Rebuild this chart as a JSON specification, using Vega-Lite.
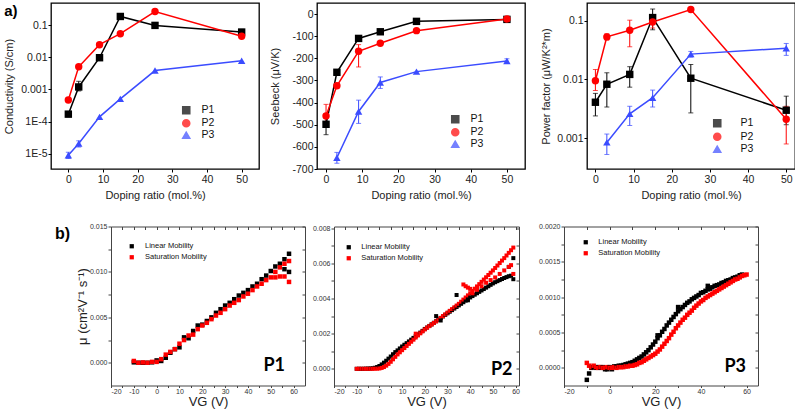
{
  "$schema": "https://vega.github.io/schema/vega-lite/v6.json",
  "background": "white",
  "padding": {"left": 2, "top": 2, "right": 0, "bottom": 0},
  "config": {
    "font": "Liberation Sans",
    "view": {"stroke": "#000000", "strokeWidth": 1.3},
    "axis": {"grid": false, "domain": false, "tickColor": "#000000", "labelColor": "#222222", "titleColor": "#222222", "labelFont": "Liberation Sans", "titleFont": "Liberation Sans", "titleFontWeight": "normal"},
    "legend": {"labelFont": "Liberation Sans", "labelColor": "#111111", "padding": 0}
  },
  "spacing": 19.5,
  "align": "all",
  "resolve": {"scale": {"color": "independent", "shape": "independent"}},
  "vconcat": [
    {
      "spacing": 58, "bounds": "flush", "align": "none",
      "resolve": {"scale": {"color": "independent", "shape": "independent"}},
      "hconcat": [
        {
          "width": 208, "height": 166,
          "data": {"values": [
            {"ratio": 0, "value": 0.00017, "sample": "P1"}, {"ratio": 3, "value": 0.0012, "sample": "P1"}, {"ratio": 9, "value": 0.0098, "sample": "P1"}, {"ratio": 15, "value": 0.19, "sample": "P1"}, {"ratio": 25, "value": 0.1, "sample": "P1"}, {"ratio": 50, "value": 0.062, "sample": "P1"},
            {"ratio": 0, "value": 0.00047, "sample": "P2"}, {"ratio": 3, "value": 0.0051, "sample": "P2"}, {"ratio": 9, "value": 0.025, "sample": "P2"}, {"ratio": 15, "value": 0.055, "sample": "P2"}, {"ratio": 25, "value": 0.27, "sample": "P2"}, {"ratio": 50, "value": 0.046, "sample": "P2"},
            {"ratio": 0, "value": 0.0000089, "sample": "P3"}, {"ratio": 3, "value": 0.0000205, "sample": "P3"}, {"ratio": 9, "value": 0.00014, "sample": "P3"}, {"ratio": 15, "value": 0.00051, "sample": "P3"}, {"ratio": 25, "value": 0.0039, "sample": "P3"}, {"ratio": 50, "value": 0.0079, "sample": "P3"}
          ]},
          "encoding": {
            "color": {"field": "sample", "type": "nominal", "scale": {"domain": ["P1", "P2", "P3"], "range": ["#000000", "#ff0000", "#3b4cff"]},
              "legend": {"title": null, "orient": "none", "legendX": 130, "legendY": 102, "labelFontSize": 10.5, "symbolSize": 50, "rowPadding": -1, "labelOffset": 10}}
          },
          "layer": [
            {
              "data": {"values": [
                {"ratio": 0, "sample": "P1", "lo": 0.00014, "hi": 0.0002}, {"ratio": 3, "sample": "P1", "lo": 0.0009, "hi": 0.0018}, {"ratio": 15, "sample": "P1", "lo": 0.17, "hi": 0.21}, {"ratio": 50, "sample": "P1", "lo": 0.052, "hi": 0.075},
                {"ratio": 0, "sample": "P2", "lo": 0.0004, "hi": 0.00055},
                {"ratio": 0, "sample": "P3", "lo": 0.000007, "hi": 0.000011}, {"ratio": 3, "sample": "P3", "lo": 0.000016, "hi": 0.000025}
              ]},
              "mark": {"type": "errorbar", "ticks": {"size": 5}, "thickness": 1},
              "encoding": {
                "x": {"field": "ratio", "type": "quantitative", "scale": {"domain": [-5, 55], "nice": false, "zero": false}, "axis": {"values": [0, 10, 20, 30, 40, 50], "title": "Doping ratio (mol.%)", "labelFontSize": 10.5, "titleFontSize": 11, "tickSize": 3, "labelPadding": 2, "titlePadding": 5}},
                "y": {"field": "lo", "type": "quantitative", "scale": {"type": "log", "domain": [0.0000033, 0.5], "nice": false}, "axis": {"values": [0.00001, 0.0001, 0.001, 0.01, 0.1], "labelExpr": "datum.value < 0.00005 ? '1E-5' : datum.value < 0.0005 ? '1E-4' : datum.value < 0.005 ? '0.001' : datum.value < 0.05 ? '0.01' : '0.1'", "title": "Conductivity (S/cm)", "labelFontSize": 10.5, "titleFontSize": 11, "tickSize": 3, "labelPadding": 1, "titlePadding": 6.5}},
                "y2": {"field": "hi"}
              }
            },
            {
              "mark": {"type": "line", "strokeWidth": 1.5},
              "encoding": {
                "x": {"field": "ratio", "type": "quantitative", "scale": {"domain": [-5, 55], "nice": false, "zero": false}, "axis": {"values": [0, 10, 20, 30, 40, 50], "title": "Doping ratio (mol.%)", "labelFontSize": 10.5, "titleFontSize": 11, "tickSize": 3, "labelPadding": 2, "titlePadding": 5}},
                "y": {"field": "value", "type": "quantitative", "scale": {"type": "log", "domain": [0.0000033, 0.5], "nice": false}, "axis": {"values": [0.00001, 0.0001, 0.001, 0.01, 0.1], "labelExpr": "datum.value < 0.00005 ? '1E-5' : datum.value < 0.0005 ? '1E-4' : datum.value < 0.005 ? '0.001' : datum.value < 0.05 ? '0.01' : '0.1'", "title": "Conductivity (S/cm)", "labelFontSize": 10.5, "titleFontSize": 11, "tickSize": 3, "labelPadding": 1, "titlePadding": 6.5}}
              }
            },
            {
              "mark": {"type": "point", "filled": true, "opacity": 1, "size": 55},
              "encoding": {
                "x": {"field": "ratio", "type": "quantitative", "scale": {"domain": [-5, 55], "nice": false, "zero": false}, "axis": {"values": [0, 10, 20, 30, 40, 50], "title": "Doping ratio (mol.%)", "labelFontSize": 10.5, "titleFontSize": 11, "tickSize": 3, "labelPadding": 2, "titlePadding": 5}},
                "y": {"field": "value", "type": "quantitative", "scale": {"type": "log", "domain": [0.0000033, 0.5], "nice": false}, "axis": {"values": [0.00001, 0.0001, 0.001, 0.01, 0.1], "labelExpr": "datum.value < 0.00005 ? '1E-5' : datum.value < 0.0005 ? '1E-4' : datum.value < 0.005 ? '0.001' : datum.value < 0.05 ? '0.01' : '0.1'", "title": "Conductivity (S/cm)", "labelFontSize": 10.5, "titleFontSize": 11, "tickSize": 3, "labelPadding": 1, "titlePadding": 6.5}},
                "shape": {"field": "sample", "type": "nominal", "scale": {"domain": ["P1", "P2", "P3"], "range": ["square", "circle", "triangle-up"]},
                  "legend": {"title": null, "orient": "none", "legendX": 130, "legendY": 102, "labelFontSize": 10.5, "symbolSize": 50, "rowPadding": -1, "labelOffset": 10}}
              }
            },
            {
              "data": {"values": [{"label": "a)"}]},
              "mark": {"type": "text", "font": "Liberation Sans", "fontSize": 15, "fontWeight": "bold", "align": "left", "baseline": "alphabetic"},
              "encoding": {
                "x": {"datum": -18.5, "type": "quantitative", "scale": {"domain": [-5, 55], "nice": false, "zero": false}, "axis": {"values": [0, 10, 20, 30, 40, 50], "title": "Doping ratio (mol.%)", "labelFontSize": 10.5, "titleFontSize": 11, "tickSize": 3, "labelPadding": 2, "titlePadding": 5}},
                "y": {"datum": 0.2, "type": "quantitative", "scale": {"type": "log", "domain": [0.0000033, 0.5], "nice": false}, "axis": {"values": [0.00001, 0.0001, 0.001, 0.01, 0.1], "labelExpr": "datum.value < 0.00005 ? '1E-5' : datum.value < 0.0005 ? '1E-4' : datum.value < 0.005 ? '0.001' : datum.value < 0.05 ? '0.01' : '0.1'", "title": "Conductivity (S/cm)", "labelFontSize": 10.5, "titleFontSize": 11, "tickSize": 3, "labelPadding": 1, "titlePadding": 6.5}},
                "text": {"field": "label"},
                "color": {"value": "#000000"}
              }
            }
          ]
        },
        {
          "spacing": 62, "bounds": "flush", "align": "none",
          "resolve": {"scale": {"color": "independent", "shape": "independent"}},
          "hconcat": [
            {
              "width": 208, "height": 166,
              "data": {"values": [
                {"ratio": 0, "value": -498, "sample": "P1"}, {"ratio": 3, "value": -263, "sample": "P1"}, {"ratio": 9, "value": -110, "sample": "P1"}, {"ratio": 15, "value": -80, "sample": "P1"}, {"ratio": 25, "value": -33, "sample": "P1"}, {"ratio": 50, "value": -24, "sample": "P1"},
                {"ratio": 0, "value": -460, "sample": "P2"}, {"ratio": 3, "value": -324, "sample": "P2"}, {"ratio": 9, "value": -168, "sample": "P2"}, {"ratio": 15, "value": -132, "sample": "P2"}, {"ratio": 25, "value": -75, "sample": "P2"}, {"ratio": 50, "value": -22, "sample": "P2"},
                {"ratio": 3, "value": -649, "sample": "P3"}, {"ratio": 9, "value": -440, "sample": "P3"}, {"ratio": 15, "value": -309, "sample": "P3"}, {"ratio": 25, "value": -260, "sample": "P3"}, {"ratio": 50, "value": -212, "sample": "P3"}
              ]},
              "encoding": {
                "x": {"field": "ratio", "type": "quantitative", "scale": {"domain": [-2.5, 55], "nice": false, "zero": false}, "axis": {"values": [0, 10, 20, 30, 40, 50], "title": "Doping ratio (mol.%)", "labelFontSize": 10.5, "titleFontSize": 11, "tickSize": 3, "labelPadding": 2, "titlePadding": 5}},
                "color": {"field": "sample", "type": "nominal", "scale": {"domain": ["P1", "P2", "P3"], "range": ["#000000", "#ff0000", "#3b4cff"]},
                  "legend": {"title": null, "orient": "none", "legendX": 133, "legendY": 111, "labelFontSize": 10.5, "symbolSize": 50, "rowPadding": -1, "labelOffset": 10}}
              },
              "layer": [
                {
                  "data": {"values": [
                    {"ratio": 0, "sample": "P1", "lo": -545, "hi": -452}, {"ratio": 3, "sample": "P1", "lo": -275, "hi": -251}, {"ratio": 9, "sample": "P1", "lo": -118, "hi": -102},
                    {"ratio": 0, "sample": "P2", "lo": -510, "hi": -408}, {"ratio": 3, "sample": "P2", "lo": -335, "hi": -313}, {"ratio": 9, "sample": "P2", "lo": -239, "hi": -138},
                    {"ratio": 3, "sample": "P3", "lo": -674, "hi": -625}, {"ratio": 9, "sample": "P3", "lo": -494, "hi": -389}, {"ratio": 15, "sample": "P3", "lo": -336, "hi": -284}, {"ratio": 50, "sample": "P3", "lo": -222, "hi": -202}
                  ]},
                  "mark": {"type": "errorbar", "ticks": {"size": 5}, "thickness": 1},
                  "encoding": {
                    "y": {"field": "lo", "type": "quantitative", "scale": {"domain": [-700, 50], "nice": false, "zero": false}, "axis": {"values": [-700, -600, -500, -400, -300, -200, -100, 0], "labelExpr": "toString(datum.value)", "title": "Seebeck (μV/K)", "labelFontSize": 10.5, "titleFontSize": 11, "tickSize": 3, "labelPadding": 1, "titlePadding": 11}},
                    "y2": {"field": "hi"}
                  }
                },
                {
                  "mark": {"type": "line", "strokeWidth": 1.5},
                  "encoding": {"y": {"field": "value", "type": "quantitative", "scale": {"domain": [-700, 50], "nice": false, "zero": false}, "axis": {"values": [-700, -600, -500, -400, -300, -200, -100, 0], "labelExpr": "toString(datum.value)", "title": "Seebeck (μV/K)", "labelFontSize": 10.5, "titleFontSize": 11, "tickSize": 3, "labelPadding": 1, "titlePadding": 11}}}
                },
                {
                  "mark": {"type": "point", "filled": true, "opacity": 1, "size": 55},
                  "encoding": {
                    "y": {"field": "value", "type": "quantitative", "scale": {"domain": [-700, 50], "nice": false, "zero": false}, "axis": {"values": [-700, -600, -500, -400, -300, -200, -100, 0], "labelExpr": "toString(datum.value)", "title": "Seebeck (μV/K)", "labelFontSize": 10.5, "titleFontSize": 11, "tickSize": 3, "labelPadding": 1, "titlePadding": 11}},
                    "shape": {"field": "sample", "type": "nominal", "scale": {"domain": ["P1", "P2", "P3"], "range": ["square", "circle", "triangle-up"]},
                      "legend": {"title": null, "orient": "none", "legendX": 133, "legendY": 111, "labelFontSize": 10.5, "symbolSize": 50, "rowPadding": -1, "labelOffset": 10}}
                  }
                }
              ]
            },
            {
              "width": 208, "height": 166,
              "data": {"values": [
                {"ratio": 0, "value": 0.0041, "sample": "P1"}, {"ratio": 3, "value": 0.0083, "sample": "P1"}, {"ratio": 9, "value": 0.0122, "sample": "P1"}, {"ratio": 15, "value": 0.113, "sample": "P1"}, {"ratio": 25, "value": 0.0105, "sample": "P1"}, {"ratio": 50, "value": 0.003, "sample": "P1"},
                {"ratio": 0, "value": 0.0095, "sample": "P2"}, {"ratio": 3, "value": 0.053, "sample": "P2"}, {"ratio": 9, "value": 0.069, "sample": "P2"}, {"ratio": 15, "value": 0.095, "sample": "P2"}, {"ratio": 25, "value": 0.155, "sample": "P2"}, {"ratio": 50, "value": 0.0021, "sample": "P2"},
                {"ratio": 3, "value": 0.00085, "sample": "P3"}, {"ratio": 9, "value": 0.0026, "sample": "P3"}, {"ratio": 15, "value": 0.0049, "sample": "P3"}, {"ratio": 25, "value": 0.027, "sample": "P3"}, {"ratio": 50, "value": 0.034, "sample": "P3"}
              ]},
              "encoding": {
                "x": {"field": "ratio", "type": "quantitative", "scale": {"domain": [-2.2, 52.3], "nice": false, "zero": false}, "axis": {"values": [0, 10, 20, 30, 40, 50], "title": "Doping ratio (mol.%)", "labelFontSize": 10.5, "titleFontSize": 11, "tickSize": 3, "labelPadding": 2, "titlePadding": 5}},
                "color": {"field": "sample", "type": "nominal", "scale": {"domain": ["P1", "P2", "P3"], "range": ["#000000", "#ff0000", "#3b4cff"]},
                  "legend": {"title": null, "orient": "none", "legendX": 125, "legendY": 115, "labelFontSize": 10.5, "symbolSize": 50, "rowPadding": -0.5, "labelOffset": 18}}
              },
              "layer": [
                {
                  "data": {"values": [
                    {"ratio": 0, "sample": "P1", "lo": 0.0024, "hi": 0.0058}, {"ratio": 3, "sample": "P1", "lo": 0.0034, "hi": 0.013}, {"ratio": 9, "sample": "P1", "lo": 0.0074, "hi": 0.0165}, {"ratio": 15, "sample": "P1", "lo": 0.07, "hi": 0.158}, {"ratio": 25, "sample": "P1", "lo": 0.0027, "hi": 0.018}, {"ratio": 50, "sample": "P1", "lo": 0.0017, "hi": 0.0052},
                    {"ratio": 0, "sample": "P2", "lo": 0.0065, "hi": 0.0148}, {"ratio": 3, "sample": "P2", "lo": 0.047, "hi": 0.06}, {"ratio": 9, "sample": "P2", "lo": 0.036, "hi": 0.102}, {"ratio": 15, "sample": "P2", "lo": 0.075, "hi": 0.115}, {"ratio": 50, "sample": "P2", "lo": 0.0008, "hi": 0.0035},
                    {"ratio": 3, "sample": "P3", "lo": 0.00053, "hi": 0.00118}, {"ratio": 9, "sample": "P3", "lo": 0.00165, "hi": 0.0035}, {"ratio": 15, "sample": "P3", "lo": 0.0034, "hi": 0.0066}, {"ratio": 25, "sample": "P3", "lo": 0.024, "hi": 0.03}, {"ratio": 50, "sample": "P3", "lo": 0.0257, "hi": 0.041}
                  ]},
                  "mark": {"type": "errorbar", "ticks": {"size": 5}, "thickness": 1},
                  "encoding": {
                    "y": {"field": "lo", "type": "quantitative", "scale": {"type": "log", "domain": [0.0003, 0.2], "nice": false}, "axis": {"values": [0.001, 0.01, 0.1], "labelExpr": "datum.value < 0.005 ? '0.001' : datum.value < 0.05 ? '0.01' : '0.1'", "title": "Power factor (μW/K²*m)", "labelFontSize": 10.5, "titleFontSize": 11, "tickSize": 3, "labelPadding": 1, "titlePadding": 5}},
                    "y2": {"field": "hi"}
                  }
                },
                {
                  "mark": {"type": "line", "strokeWidth": 1.5},
                  "encoding": {"y": {"field": "value", "type": "quantitative", "scale": {"type": "log", "domain": [0.0003, 0.2], "nice": false}, "axis": {"values": [0.001, 0.01, 0.1], "labelExpr": "datum.value < 0.005 ? '0.001' : datum.value < 0.05 ? '0.01' : '0.1'", "title": "Power factor (μW/K²*m)", "labelFontSize": 10.5, "titleFontSize": 11, "tickSize": 3, "labelPadding": 1, "titlePadding": 5}}}
                },
                {
                  "mark": {"type": "point", "filled": true, "opacity": 1, "size": 55},
                  "encoding": {
                    "y": {"field": "value", "type": "quantitative", "scale": {"type": "log", "domain": [0.0003, 0.2], "nice": false}, "axis": {"values": [0.001, 0.01, 0.1], "labelExpr": "datum.value < 0.005 ? '0.001' : datum.value < 0.05 ? '0.01' : '0.1'", "title": "Power factor (μW/K²*m)", "labelFontSize": 10.5, "titleFontSize": 11, "tickSize": 3, "labelPadding": 1, "titlePadding": 5}},
                    "shape": {"field": "sample", "type": "nominal", "scale": {"domain": ["P1", "P2", "P3"], "range": ["square", "circle", "triangle-up"]},
                      "legend": {"title": null, "orient": "none", "legendX": 125, "legendY": 115, "labelFontSize": 10.5, "symbolSize": 50, "rowPadding": -0.5, "labelOffset": 18}}
                  }
                }
              ]
            }
          ]
        }
      ]
    },
    {
      "spacing": 29, "bounds": "flush", "align": "none",
      "resolve": {"scale": {"color": "independent", "shape": "independent"}},
      "hconcat": [
        {
          "width": 31, "height": 159,
          "view": {"stroke": null},
          "data": {"values": [{"t": ""}]},
          "mark": "text",
          "encoding": {"text": {"field": "t"}}
        },
        {
          "width": 194, "height": 159,
          "view": {"stroke": "#444444", "strokeWidth": 1},
          "resolve": {"axis": {"x": "independent", "y": "independent"}},
          "layer": [
            {
              "data": {"values": [
                {"V": -10, "lin": 0.00005, "sat": 0.0002}, {"V": -8, "lin": 0.0, "sat": 0.0}, {"V": -6, "lin": 0.0, "sat": 0.00004}, {"V": -4, "lin": 0.0, "sat": 0.0}, {"V": -2, "lin": 0.00005, "sat": 0.0001},
                {"V": 0, "lin": 0.00026, "sat": 0.0001}, {"V": 2, "lin": 0.0002, "sat": 0.0004}, {"V": 4, "lin": 0.00055, "sat": 0.0009}, {"V": 6, "lin": 0.0011, "sat": 0.0012}, {"V": 8, "lin": 0.0015, "sat": 0.0015},
                {"V": 10, "lin": 0.0017, "sat": 0.0021}, {"V": 12, "lin": 0.0028, "sat": 0.0025}, {"V": 14, "lin": 0.0027, "sat": 0.003}, {"V": 16, "lin": 0.0035, "sat": 0.0031}, {"V": 18, "lin": 0.0041, "sat": 0.0037},
                {"V": 20, "lin": 0.0042, "sat": 0.0041}, {"V": 22, "lin": 0.0046, "sat": 0.0044}, {"V": 24, "lin": 0.005, "sat": 0.0048}, {"V": 26, "lin": 0.0055, "sat": 0.0052}, {"V": 28, "lin": 0.0059, "sat": 0.0055},
                {"V": 30, "lin": 0.0063, "sat": 0.0059}, {"V": 32, "lin": 0.0066, "sat": 0.0063}, {"V": 34, "lin": 0.007, "sat": 0.0066}, {"V": 36, "lin": 0.0074, "sat": 0.0069}, {"V": 38, "lin": 0.0077, "sat": 0.0073},
                {"V": 40, "lin": 0.008, "sat": 0.0076}, {"V": 42, "lin": 0.0084, "sat": 0.008}, {"V": 44, "lin": 0.0087, "sat": 0.0084}, {"V": 46, "lin": 0.0092, "sat": 0.0087}, {"V": 48, "lin": 0.0096, "sat": 0.0091},
                {"V": 50, "lin": 0.0101, "sat": 0.0094}, {"V": 52, "lin": 0.0106, "sat": 0.01}, {"V": 54, "lin": 0.0109, "sat": 0.0105}, {"V": 56, "lin": 0.0114, "sat": 0.0109}, {"V": 58, "lin": 0.012, "sat": 0.0112},
                {"V": 52, "sat": 0.0094}, {"V": 54, "sat": 0.0095}, {"V": 56, "lin": 0.0103, "sat": 0.0095}, {"V": 58, "lin": 0.01, "sat": 0.0089}
              ]},
              "transform": [{"fold": ["lin", "sat"], "as": ["type", "mu"]}, {"filter": "isValid(datum.mu)"}],
              "mark": {"type": "square", "size": 20, "opacity": 1},
              "encoding": {
                "x": {"field": "V", "type": "quantitative", "scale": {"domain": [-20, 65], "nice": false, "zero": false}, "axis": {"values": [-20, -15, -10, -5, 0, 5, 10, 15, 20, 25, 30, 35, 40, 45, 50, 55, 60], "labelExpr": "datum.value % 10 === 0 ? toString(datum.value) : ''", "title": "VG (V)", "labelFontSize": 7, "titleFontSize": 13, "tickSize": 2, "labelPadding": 0, "titlePadding": 1, "labelColor": "#333333", "tickColor": "#444444"}},
                "y": {"field": "mu", "type": "quantitative", "scale": {"domain": [-0.0025, 0.015], "nice": false, "zero": false}, "axis": {"values": [0, 0.0025, 0.005, 0.0075, 0.01, 0.0125, 0.015], "labelExpr": "abs(round(datum.value / 0.005) * 0.005 - datum.value) < 0.000001 ? format(datum.value, '.3f') : ''", "title": "μ (cm²V⁻¹ s⁻¹)", "labelFontSize": 7, "titleFontSize": 13, "tickSize": 3, "labelPadding": 1, "titlePadding": 0, "labelColor": "#333333", "tickColor": "#444444"}},
                "color": {"field": "type", "type": "nominal", "scale": {"domain": ["lin", "sat"], "range": ["#000000", "#ff0000"]}, "legend": {"title": null, "orient": "none", "legendX": 17, "legendY": 16, "labelFontSize": 7.5, "symbolType": "square", "symbolSize": 18, "symbolStrokeWidth": 0, "rowPadding": 2, "labelOffset": 9.5, "labelExpr": "datum.label === 'lin' ? 'Linear Mobility' : 'Saturation Mobility'"}}
              }
            },
            {
              "data": {"values": [{"label": "P1"}]},
              "mark": {"type": "text", "font": "Lato", "fontWeight": "bold", "fontSize": 18, "align": "center", "baseline": "alphabetic", "color": "#000000"},
              "encoding": {
                "x": {"datum": 51.5, "type": "quantitative", "scale": {"domain": [-20, 65], "nice": false, "zero": false}, "axis": {"orient": "top", "labels": false, "title": null, "values": [-20, -15, -10, -5, 0, 5, 10, 15, 20, 25, 30, 35, 40, 45, 50, 55, 60], "tickSize": -3, "tickColor": "#444444"}},
                "y": {"datum": -0.00092, "type": "quantitative", "scale": {"domain": [-0.0025, 0.015], "nice": false, "zero": false}, "axis": {"orient": "right", "labels": false, "title": null, "values": [0, 0.0025, 0.005, 0.0075, 0.01, 0.0125, 0.015], "tickSize": -3, "tickColor": "#444444"}},
                "text": {"field": "label"}
              }
            },
            {
              "data": {"values": [{"label": "b)"}]},
              "mark": {"type": "text", "font": "Liberation Sans", "fontWeight": "bold", "fontSize": 16, "align": "left", "baseline": "alphabetic", "color": "#000000"},
              "encoding": {
                "x": {"datum": -44.5, "type": "quantitative", "scale": {"domain": [-20, 65], "nice": false, "zero": false}, "axis": null},
                "y": {"datum": 0.0136, "type": "quantitative", "scale": {"domain": [-0.0025, 0.015], "nice": false, "zero": false}, "axis": null},
                "text": {"field": "label"}
              }
            }
          ]
        },
        {
          "spacing": 45, "bounds": "flush", "align": "none",
          "resolve": {"scale": {"color": "independent", "shape": "independent"}},
          "hconcat": [
            {
              "width": 185, "height": 159,
              "view": {"stroke": "#444444", "strokeWidth": 1},
              "resolve": {"axis": {"x": "independent", "y": "independent"}},
              "layer": [
                {
                  "data": {"values": [
                    {"V": -10, "lin": 0.0, "sat": 0.0}, {"V": -9, "lin": 0.0, "sat": 0.0}, {"V": -8, "lin": 0.0, "sat": 0.0}, {"V": -7, "lin": 0.0, "sat": 0.0}, {"V": -6, "lin": 0.00001, "sat": 0.0},
                    {"V": -5, "lin": 0.00001, "sat": 0.0}, {"V": -4, "lin": 0.00002, "sat": 0.0}, {"V": -3, "lin": 0.00003, "sat": 0.0}, {"V": -2, "lin": 0.00006, "sat": 0.00001}, {"V": -1, "lin": 0.0001, "sat": 0.00001},
                    {"V": 0, "lin": 0.00016, "sat": 0.00002}, {"V": 1, "lin": 0.00025, "sat": 0.00005}, {"V": 2, "lin": 0.00035, "sat": 0.0001}, {"V": 3, "lin": 0.00046, "sat": 0.00018}, {"V": 4, "lin": 0.00058, "sat": 0.00028},
                    {"V": 5, "lin": 0.0007, "sat": 0.0004}, {"V": 6, "lin": 0.00083, "sat": 0.00054}, {"V": 7, "lin": 0.00095, "sat": 0.00068}, {"V": 8, "lin": 0.00105, "sat": 0.00082}, {"V": 9, "lin": 0.00116, "sat": 0.00094},
                    {"V": 10, "lin": 0.00127, "sat": 0.00106}, {"V": 11, "lin": 0.00137, "sat": 0.00118}, {"V": 12, "lin": 0.00146, "sat": 0.0013}, {"V": 13, "lin": 0.00156, "sat": 0.00142}, {"V": 14, "lin": 0.00166, "sat": 0.00154},
                    {"V": 15, "lin": 0.00176, "sat": 0.00166}, {"V": 16, "lin": 0.00186, "sat": 0.00178}, {"V": 17, "lin": 0.00196, "sat": 0.0019}, {"V": 18, "lin": 0.00206, "sat": 0.00202}, {"V": 19, "lin": 0.00216, "sat": 0.00213},
                    {"V": 20, "lin": 0.00227, "sat": 0.00224}, {"V": 21, "lin": 0.00235, "sat": 0.00234}, {"V": 22, "lin": 0.00244, "sat": 0.00243}, {"V": 23, "lin": 0.00253, "sat": 0.00252}, {"V": 24, "lin": 0.00262, "sat": 0.00261},
                    {"V": 25, "lin": 0.00271, "sat": 0.0027}, {"V": 26, "lin": 0.0028, "sat": 0.0028}, {"V": 27, "lin": 0.00289, "sat": 0.0029}, {"V": 28, "lin": 0.00298, "sat": 0.003}, {"V": 29, "lin": 0.00307, "sat": 0.0031},
                    {"V": 30, "lin": 0.00316, "sat": 0.0032}, {"V": 31, "lin": 0.00325, "sat": 0.0033}, {"V": 32, "lin": 0.00334, "sat": 0.0034}, {"V": 33, "lin": 0.00343, "sat": 0.0035}, {"V": 34, "lin": 0.00352, "sat": 0.0036},
                    {"V": 35, "lin": 0.00361, "sat": 0.0037}, {"V": 36, "lin": 0.0037, "sat": 0.00382}, {"V": 37, "lin": 0.00379, "sat": 0.00394}, {"V": 38, "lin": 0.00388, "sat": 0.00406}, {"V": 39, "lin": 0.00397, "sat": 0.00418},
                    {"V": 40, "lin": 0.00406, "sat": 0.0043}, {"V": 41, "lin": 0.00414, "sat": 0.00443}, {"V": 42, "lin": 0.00422, "sat": 0.00456}, {"V": 43, "lin": 0.0043, "sat": 0.00469}, {"V": 44, "lin": 0.00438, "sat": 0.00482},
                    {"V": 45, "lin": 0.00446, "sat": 0.00495}, {"V": 46, "lin": 0.00454, "sat": 0.00508}, {"V": 47, "lin": 0.00462, "sat": 0.00521}, {"V": 48, "lin": 0.0047, "sat": 0.00534}, {"V": 49, "lin": 0.00478, "sat": 0.00547},
                    {"V": 50, "lin": 0.00486, "sat": 0.0056}, {"V": 51, "lin": 0.00493, "sat": 0.00574}, {"V": 52, "lin": 0.00499, "sat": 0.00588}, {"V": 53, "lin": 0.00505, "sat": 0.00602}, {"V": 54, "lin": 0.00511, "sat": 0.00616},
                    {"V": 55, "lin": 0.00517, "sat": 0.0063}, {"V": 56, "lin": 0.00522, "sat": 0.00645}, {"V": 57, "lin": 0.00527, "sat": 0.0066}, {"V": 58, "lin": 0.0053, "sat": 0.00675}, {"V": 59, "lin": 0.0051, "sat": 0.0069},
                    {"V": 25, "lin": 0.003}, {"V": 27, "lin": 0.00275}, {"V": 34, "lin": 0.0042}, {"V": 39, "lin": 0.0039}, {"V": 57, "lin": 0.0058}, {"V": 59, "lin": 0.0063},
                    {"V": 16, "sat": 0.002}, {"V": 37, "sat": 0.0048}, {"V": 38, "sat": 0.0047}, {"V": 39, "sat": 0.00462}, {"V": 40, "sat": 0.00455},
                    {"V": 41, "sat": 0.0043}, {"V": 43, "sat": 0.0045}, {"V": 45, "sat": 0.0047}, {"V": 47, "sat": 0.0049}, {"V": 49, "sat": 0.00505}, {"V": 51, "sat": 0.0052}, {"V": 53, "sat": 0.0054}, {"V": 55, "sat": 0.0056}, {"V": 57, "sat": 0.0058}, {"V": 58, "sat": 0.0059}, {"V": 59, "sat": 0.0054}
                  ]},
                  "transform": [{"fold": ["lin", "sat"], "as": ["type", "mu"]}, {"filter": "isValid(datum.mu)"}],
                  "mark": {"type": "square", "size": 16, "opacity": 1},
                  "encoding": {
                    "x": {"field": "V", "type": "quantitative", "scale": {"domain": [-20, 61.5], "nice": false, "zero": false}, "axis": {"values": [-20, -15, -10, -5, 0, 5, 10, 15, 20, 25, 30, 35, 40, 45, 50, 55, 60], "labelExpr": "datum.value % 10 === 0 ? toString(datum.value) : ''", "title": "VG (V)", "labelFontSize": 7, "titleFontSize": 13, "tickSize": 2, "labelPadding": 0, "titlePadding": 1, "labelColor": "#333333", "tickColor": "#444444"}},
                    "y": {"field": "mu", "type": "quantitative", "scale": {"domain": [-0.00095, 0.0081], "nice": false, "zero": false}, "axis": {"values": [0, 0.001, 0.002, 0.003, 0.004, 0.005, 0.006, 0.007, 0.008], "labelExpr": "abs(round(datum.value / 0.002) * 0.002 - datum.value) < 0.000001 ? format(datum.value, '.3f') : ''", "title": null, "labelFontSize": 7, "tickSize": 3, "labelPadding": 1, "labelColor": "#333333", "tickColor": "#444444"}},
                    "color": {"field": "type", "type": "nominal", "scale": {"domain": ["lin", "sat"], "range": ["#000000", "#ff0000"]}, "legend": {"title": null, "orient": "none", "legendX": 11, "legendY": 17, "labelFontSize": 7.5, "symbolType": "square", "symbolSize": 18, "symbolStrokeWidth": 0, "rowPadding": 2, "labelOffset": 8.8, "labelExpr": "datum.label === 'lin' ? 'Linear Mobility' : 'Saturation Mobility'"}}
                  }
                },
                {
                  "data": {"values": [{"label": "P2"}]},
                  "mark": {"type": "text", "font": "Lato", "fontWeight": "bold", "fontSize": 18, "align": "center", "baseline": "alphabetic", "color": "#000000"},
                  "encoding": {
                    "x": {"datum": 53.9, "type": "quantitative", "scale": {"domain": [-20, 61.5], "nice": false, "zero": false}, "axis": {"orient": "top", "labels": false, "title": null, "values": [-20, -15, -10, -5, 0, 5, 10, 15, 20, 25, 30, 35, 40, 45, 50, 55, 60], "tickSize": -3, "tickColor": "#444444"}},
                    "y": {"datum": -0.00034, "type": "quantitative", "scale": {"domain": [-0.00095, 0.0081], "nice": false, "zero": false}, "axis": {"orient": "right", "labels": false, "title": null, "values": [0, 0.001, 0.002, 0.003, 0.004, 0.005, 0.006, 0.007, 0.008], "tickSize": -3, "tickColor": "#444444"}},
                    "text": {"field": "label"}
                  }
                }
              ]
            },
            {
              "width": 194, "height": 159,
              "view": {"stroke": "#444444", "strokeWidth": 1},
              "resolve": {"axis": {"x": "independent", "y": "independent"}},
              "layer": [
                {
                  "data": {"values": [
                    {"V": -10, "lin": -0.00017, "sat": 0.00007}, {"V": -9, "lin": -0.00008, "sat": 0.00003}, {"V": -8, "lin": 0.0, "sat": 0.00001}, {"V": -7, "lin": 0.00001, "sat": 0.00003}, {"V": -6, "lin": 0.0, "sat": 0.00001},
                    {"V": -5, "lin": 0.00001, "sat": 0.0}, {"V": -4, "lin": 0.0, "sat": 0.00001}, {"V": -3, "lin": 0.00001, "sat": 0.0}, {"V": -2, "lin": -0.00002, "sat": 0.0}, {"V": -1, "lin": -0.00002, "sat": 0.00001},
                    {"V": 0, "lin": 0.00001, "sat": 0.0}, {"V": 1, "lin": -0.00002, "sat": 0.0}, {"V": 2, "lin": 0.00002, "sat": 0.00001}, {"V": 3, "lin": 0.00002, "sat": 0.0}, {"V": 4, "lin": 0.00003, "sat": 0.00001},
                    {"V": 5, "lin": 0.00003, "sat": 0.00001}, {"V": 6, "lin": 0.00004, "sat": 0.00001}, {"V": 7, "lin": 0.00005, "sat": 0.00002}, {"V": 8, "lin": 0.00006, "sat": 0.00002}, {"V": 9, "lin": 0.00007, "sat": 0.00003},
                    {"V": 10, "lin": 0.00008, "sat": 0.00003}, {"V": 11, "lin": 0.0001, "sat": 0.00004}, {"V": 12, "lin": 0.00012, "sat": 0.00005}, {"V": 13, "lin": 0.00014, "sat": 0.00007}, {"V": 14, "lin": 0.00016, "sat": 0.00008},
                    {"V": 15, "lin": 0.00019, "sat": 0.0001}, {"V": 16, "lin": 0.00022, "sat": 0.00012}, {"V": 17, "lin": 0.00025, "sat": 0.00014}, {"V": 18, "lin": 0.00029, "sat": 0.00016}, {"V": 19, "lin": 0.00033, "sat": 0.00018},
                    {"V": 20, "lin": 0.00037, "sat": 0.0002}, {"V": 21, "lin": 0.00042, "sat": 0.00023}, {"V": 22, "lin": 0.00046, "sat": 0.00026}, {"V": 23, "lin": 0.00051, "sat": 0.0003}, {"V": 24, "lin": 0.00055, "sat": 0.00034},
                    {"V": 25, "lin": 0.0006, "sat": 0.00038}, {"V": 26, "lin": 0.00064, "sat": 0.00042}, {"V": 27, "lin": 0.00068, "sat": 0.00047}, {"V": 28, "lin": 0.00072, "sat": 0.00051}, {"V": 29, "lin": 0.00076, "sat": 0.00056},
                    {"V": 30, "lin": 0.0008, "sat": 0.0006}, {"V": 31, "lin": 0.00083, "sat": 0.00064}, {"V": 32, "lin": 0.00086, "sat": 0.00068}, {"V": 33, "lin": 0.00089, "sat": 0.00071}, {"V": 34, "lin": 0.00092, "sat": 0.00075},
                    {"V": 35, "lin": 0.00094, "sat": 0.00078}, {"V": 36, "lin": 0.00097, "sat": 0.00081}, {"V": 37, "lin": 0.00099, "sat": 0.00085}, {"V": 38, "lin": 0.00101, "sat": 0.00088}, {"V": 39, "lin": 0.00103, "sat": 0.00091},
                    {"V": 40, "lin": 0.00106, "sat": 0.00094}, {"V": 41, "lin": 0.00107, "sat": 0.00096}, {"V": 42, "lin": 0.00109, "sat": 0.00099}, {"V": 43, "lin": 0.00111, "sat": 0.00101}, {"V": 44, "lin": 0.00112, "sat": 0.00103},
                    {"V": 45, "lin": 0.00114, "sat": 0.00105}, {"V": 46, "lin": 0.00116, "sat": 0.00107}, {"V": 47, "lin": 0.00117, "sat": 0.00109}, {"V": 48, "lin": 0.00118, "sat": 0.00111}, {"V": 49, "lin": 0.0012, "sat": 0.00113},
                    {"V": 50, "lin": 0.00121, "sat": 0.00115}, {"V": 51, "lin": 0.00123, "sat": 0.00117}, {"V": 52, "lin": 0.00124, "sat": 0.00119}, {"V": 53, "lin": 0.00125, "sat": 0.00121}, {"V": 54, "lin": 0.00127, "sat": 0.00123},
                    {"V": 55, "lin": 0.00128, "sat": 0.00125}, {"V": 56, "lin": 0.00129, "sat": 0.00126}, {"V": 57, "lin": 0.00131, "sat": 0.00128}, {"V": 58, "lin": 0.00132, "sat": 0.0013}, {"V": 59, "sat": 0.00131}, {"V": 60, "sat": 0.00132},
                    {"V": 21, "lin": 0.00046}, {"V": 30, "lin": 0.00086}, {"V": 43, "lin": 0.00116}
                  ]},
                  "transform": [{"fold": ["lin", "sat"], "as": ["type", "mu"]}, {"filter": "isValid(datum.mu)"}],
                  "mark": {"type": "square", "size": 20, "opacity": 1},
                  "encoding": {
                    "x": {"field": "V", "type": "quantitative", "scale": {"domain": [-20, 65], "nice": false, "zero": false}, "axis": {"values": [-20, -10, 0, 10, 20, 30, 40, 50, 60], "labelExpr": "datum.value % 20 === 0 ? toString(datum.value) : ''", "title": "VG (V)", "labelFontSize": 7, "titleFontSize": 13, "tickSize": 2, "labelPadding": 0, "titlePadding": 1, "labelColor": "#333333", "tickColor": "#444444"}},
                    "y": {"field": "mu", "type": "quantitative", "scale": {"domain": [-0.00025, 0.002], "nice": false, "zero": false}, "axis": {"values": [0, 0.00025, 0.0005, 0.00075, 0.001, 0.00125, 0.0015, 0.00175, 0.002], "labelExpr": "abs(round(datum.value / 0.0005) * 0.0005 - datum.value) < 0.0000001 ? format(datum.value, '.4f') : ''", "title": null, "labelFontSize": 7, "tickSize": 3, "labelPadding": 1, "labelColor": "#333333", "tickColor": "#444444"}},
                    "color": {"field": "type", "type": "nominal", "scale": {"domain": ["lin", "sat"], "range": ["#000000", "#ff0000"]}, "legend": {"title": null, "orient": "none", "legendX": 18, "legendY": 12, "labelFontSize": 7.5, "symbolType": "square", "symbolSize": 18, "symbolStrokeWidth": 0, "rowPadding": 2, "labelOffset": 8.8, "labelExpr": "datum.label === 'lin' ? 'Linear Mobility' : 'Saturation Mobility'"}}
                  }
                },
                {
                  "data": {"values": [{"label": "P3"}]},
                  "mark": {"type": "text", "font": "Lato", "fontWeight": "bold", "fontSize": 18, "align": "center", "baseline": "alphabetic", "color": "#000000"},
                  "encoding": {
                    "x": {"datum": 55, "type": "quantitative", "scale": {"domain": [-20, 65], "nice": false, "zero": false}, "axis": {"orient": "top", "labels": false, "title": null, "values": [-20, -10, 0, 10, 20, 30, 40, 50, 60], "tickSize": -3, "tickColor": "#444444"}},
                    "y": {"datum": -0.000066, "type": "quantitative", "scale": {"domain": [-0.00025, 0.002], "nice": false, "zero": false}, "axis": {"orient": "right", "labels": false, "title": null, "values": [0, 0.00025, 0.0005, 0.00075, 0.001, 0.00125, 0.0015, 0.00175, 0.002], "tickSize": -3, "tickColor": "#444444"}},
                    "text": {"field": "label"}
                  }
                }
              ]
            }
          ]
        }
      ]
    }
  ]
}
